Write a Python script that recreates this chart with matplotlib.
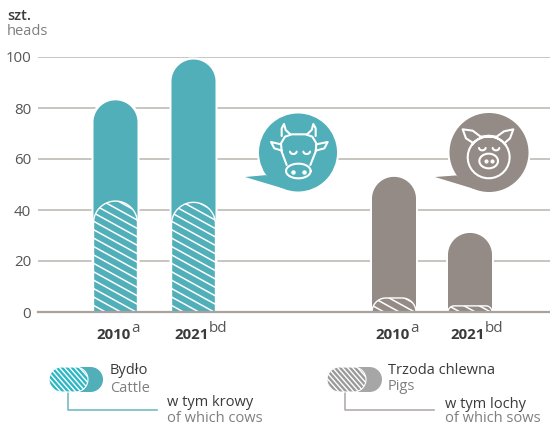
import numpy as np
import matplotlib
matplotlib.use('Agg')
import matplotlib.pyplot as plt
from matplotlib.patches import Polygon, Circle

# dane
years = ['2010', '2021']
year_notes = ['a', 'bd']
cattle = [83, 99]
cows = [43.5, 43]
pigs = [53, 31]
sows = [5.5, 2.4]
y_ticks = [0, 20, 40, 60, 80, 100]

cattle_x = [115.5, 193.5]
pigs_x = [394, 470]

TEAL = '#50afb8'
GREY = '#948b86'
DARK = '#3a3a3a'
LIGHT = '#7f7f7f'
PX_PER_UNIT = 2.55
BAR_R = 22

plt.rcParams['font.family'] = ['Open Sans', 'DejaVu Sans']

fig = plt.figure(figsize=(5.5, 4.25), dpi=100)
ax = fig.add_axes([38 / 550, (425 - 312) / 425, 512 / 550, 255 / 425])
ax.set_xlim(38, 550)
ax.set_ylim(0, 100)
ax.set_xticks([])
ax.set_yticks(y_ticks)
ax.tick_params(axis='y', length=0, pad=5, labelsize=10.8, labelcolor='#555555')
for s in ax.spines.values():
    s.set_visible(False)
ax.grid(axis='y', color='#c4c0bc', lw=1.3, zorder=0)
ax.set_axisbelow(True)
ax.axhline(0, color='#a8a19c', lw=1.6, zorder=6, clip_on=False)


def bar_outline(xc, h, r, grow=0.0):
    # slupek z zaokraglona gora, promien w pikselach
    r = min(r, h * PX_PER_UNIT)
    half = BAR_R + grow
    ry = r / PX_PER_UNIT
    top = h + grow / PX_PER_UNIT
    t = np.linspace(np.pi, 0, 60)
    cx_l = xc - half + r
    cx_r = xc + half - r
    xs, ys = [xc - half], [0]
    for a in t[t >= np.pi / 2]:
        xs.append(cx_l + r * np.cos(a))
        ys.append(top - ry + ry * np.sin(a))
    for a in t[t <= np.pi / 2]:
        xs.append(cx_r + r * np.cos(a))
        ys.append(top - ry + ry * np.sin(a))
    xs.append(xc + half)
    ys.append(0)
    return np.column_stack([xs, ys])


def draw_bar(xc, total, part, color):
    ax.add_patch(Polygon(bar_outline(xc, total, BAR_R, 2), fc='white', ec='none', zorder=2))
    ax.add_patch(Polygon(bar_outline(xc, total, BAR_R), fc=color, ec='none', zorder=3))
    clip = Polygon(bar_outline(xc, part, BAR_R), fc=color, ec='white', lw=1.0, zorder=4)
    ax.add_patch(clip)
    for off in np.arange(-4, 60, 3.3):
        xl = np.array([xc - BAR_R, xc + BAR_R])
        yl = off - (xl - xl[0]) * 0.55 / PX_PER_UNIT
        ln, = ax.plot(xl, yl, color='white', lw=1.1, zorder=5)
        ln.set_clip_path(clip)


for i in range(2):
    draw_bar(cattle_x[i], cattle[i], cows[i], TEAL)
    draw_bar(pigs_x[i], pigs[i], sows[i], GREY)

# warstwa w pikselach: dymki, ikony, legenda, podpisy
ov = fig.add_axes([0, 0, 1, 1], facecolor='none')
ov.set_xlim(0, 550)
ov.set_ylim(425, 0)
ov.axis('off')


def year_label(x, year, note, note_dx):
    ov.text(x, 335, year, fontsize=10.8, fontweight='bold', color=DARK, ha='left', va='center')
    ov.text(x + note_dx, 329, note, fontsize=11, color='#555555', ha='left', va='center')


year_label(96, years[0], year_notes[0], 35)
year_label(174, years[1], year_notes[1], 35)
year_label(375, years[0], year_notes[0], 35)
year_label(450, years[1], year_notes[1], 35)

ov.text(7, 16, 'szt.', fontsize=10.5, color=DARK, va='center', fontweight='semibold')
ov.text(7, 31, 'heads', fontsize=10.5, color=LIGHT, va='center')


def bubble(cx, cy, r, tip, color):
    ov.add_patch(Circle((cx, cy), r + 2, fc='white', ec='none', zorder=2))
    ov.add_patch(Circle((cx, cy), r, fc=color, ec='none', zorder=3))
    ov.add_patch(Polygon([tip, (cx - r * 0.82, cy + r * 0.58), (cx - r * 0.35, cy + r * 0.93)],
                         fc=color, ec='none', zorder=3))


bubble(298, 152.5, 39, (245, 177), TEAL)
bubble(489, 152.5, 39.5, (435, 177), GREY)


def icon_line(pts, ox, oy, closed=False):
    # punkty w ukladzie powiekszenia 3x
    p = np.array(pts, dtype=float)
    if closed:
        p = np.vstack([p, p[0]])
    ov.plot(ox + p[:, 0] / 3, oy + p[:, 1] / 3, color='white', lw=1.5,
            solid_joinstyle='round', solid_capstyle='round', zorder=4)


def ell(cx, cy, rx, ry, a0=0, a1=2 * np.pi):
    t = np.linspace(a0, a1, 40)
    return np.column_stack([cx + rx * np.cos(t), cy + ry * np.sin(t)])


# krowa
cx0, cy0 = 235, 100
icon_line([(155, 195), (140, 155), (138, 130), (150, 110), (170, 103), (212, 103),
           (232, 110), (244, 130), (242, 155), (226, 195)], cx0, cy0)
icon_line(ell(190, 213, 37, 22), cx0, cy0, closed=True)
icon_line([(140, 108), (140, 85), (147, 72), (152, 90), (166, 103)], cx0, cy0)
icon_line([(242, 108), (242, 85), (235, 72), (230, 90), (216, 103)], cx0, cy0)
icon_line([(138, 133), (108, 126), (118, 145), (141, 152)], cx0, cy0)
icon_line([(244, 133), (278, 126), (268, 145), (242, 152)], cx0, cy0)
icon_line(ell(175, 154, 10, 8, 0.1, np.pi - 0.1), cx0, cy0)
icon_line(ell(215, 154, 10, 8, 0.1, np.pi - 0.1), cx0, cy0)
ov.scatter([235 + 175 / 3, 235 + 207 / 3], [100 + 215 / 3] * 2, s=5, color='white', zorder=4)

# swinia
px0, py0 = 430, 100
icon_line(ell(176, 172, 63, 63, -2.5, -0.65 + 2 * np.pi)[::-1], px0, py0)
icon_line([(128, 128), (108, 115), (98, 88), (128, 92), (152, 110), (176, 107), (200, 110),
           (222, 94), (250, 88), (240, 115), (225, 128)], px0, py0)
icon_line(ell(176, 183, 28, 22), px0, py0, closed=True)
icon_line(ell(157, 143, 10, 8, 0.1, np.pi - 0.1), px0, py0)
icon_line(ell(198, 143, 10, 8, 0.1, np.pi - 0.1), px0, py0)
ov.scatter([430 + 167 / 3, 430 + 185 / 3], [100 + 183 / 3] * 2, s=4, color='white', zorder=4)


def pill(x0, x1, y0, y1, **kw):
    r = (y1 - y0) / 2
    t = np.linspace(-np.pi / 2, np.pi / 2, 30)
    right = np.column_stack([x1 - r + r * np.cos(t), y0 + r + r * np.sin(t)])
    left = np.column_stack([x0 + r - r * np.cos(t[::-1]), y0 + r + r * np.sin(t[::-1])])
    return Polygon(np.vstack([right, left]), **kw)


def legend_key(x0, x_mid, x1, y0, y1, base, hatch_col, lx, ly, lx_end, line_col):
    ov.add_patch(pill(x0, x1, y0, y1, fc=base, ec='none', zorder=2))
    clip = pill(x0, x_mid, y0, y1, fc=hatch_col, ec='white', lw=0.8, zorder=3)
    ov.add_patch(clip)
    for off in np.arange(x0 - 30, x_mid + 10, 5.0):
        ln, = ov.plot([off, off + 22], [y0, y1], color='white', lw=1.0, zorder=4)
        ln.set_clip_path(clip)
    ov.plot([lx, lx, lx_end], [y1, ly, ly], color=line_col, lw=1.2, zorder=2)


legend_key(49, 88, 103, 367, 392, TEAL, '#2db7c4', 68, 410, 157, '#72bcc4')
legend_key(327, 366, 382, 367, 392, '#a6a6a6', '#9a9a9a', 345, 410, 434, '#b3adaa')

ov.text(110, 371, 'Bydło', fontsize=10.5, color=DARK, va='center')
ov.text(110, 389, 'Cattle', fontsize=10.5, color=LIGHT, va='center')
ov.text(167, 403, 'w tym krowy', fontsize=10.5, color=DARK, va='center')
ov.text(167, 419, 'of which cows', fontsize=10.5, color=LIGHT, va='center')
ov.text(388, 370, 'Trzoda chlewna', fontsize=10.5, color=DARK, va='center')
ov.text(388, 387, 'Pigs', fontsize=10.5, color=LIGHT, va='center')
ov.text(445, 404, 'w tym lochy', fontsize=10.5, color=DARK, va='center')
ov.text(445, 419, 'of which sows', fontsize=10.5, color=LIGHT, va='center')

fig.savefig('out.png', dpi=100)
